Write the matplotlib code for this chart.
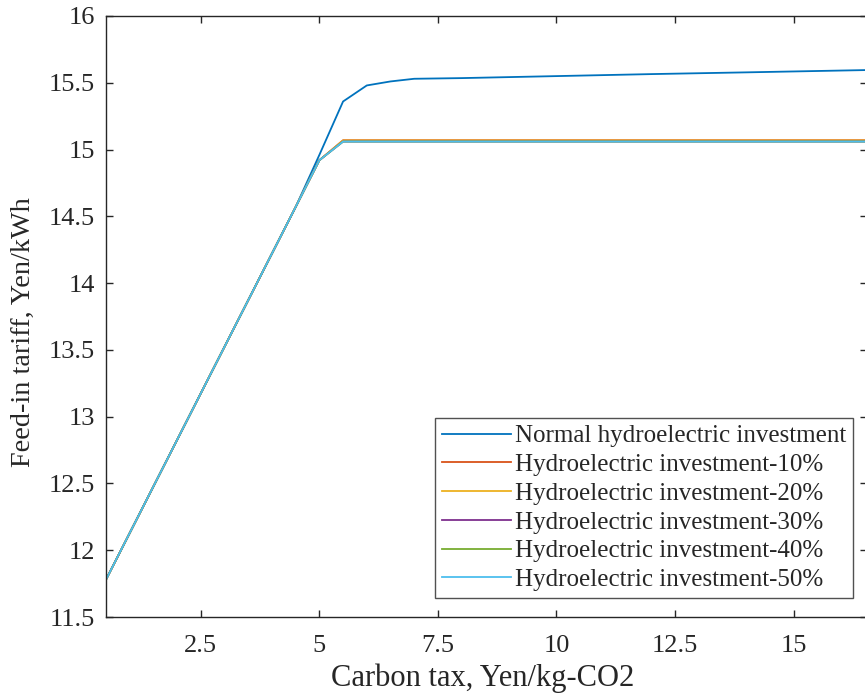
import matplotlib
matplotlib.use("Agg")
import matplotlib.pyplot as plt

plt.rcParams['font.family'] = ['Liberation Serif', 'DejaVu Serif']

# Carbon tax levels (Yen/kg-CO2) and feed-in tariffs (Yen/kWh)
carbon_tax = [0.5, 4.5, 5.0, 5.5, 6.0, 6.5, 7.0, 8.0, 10.0, 12.0, 14.0, 16.5]
normal_inv = [11.78, 14.57, 14.96, 15.36, 15.48, 15.51, 15.53, 15.535, 15.55, 15.565, 15.578, 15.595]
inv_10 = [11.78, 14.57, 14.92, 15.07, 15.07, 15.07, 15.07, 15.07, 15.07, 15.07, 15.07, 15.07]
inv_20 = [11.78, 14.57, 14.92, 15.068, 15.068, 15.068, 15.068, 15.068, 15.068, 15.068, 15.068, 15.068]
inv_30 = [11.78, 14.57, 14.92, 15.06, 15.06, 15.06, 15.06, 15.06, 15.06, 15.06, 15.06, 15.06]
inv_40 = [11.78, 14.57, 14.92, 15.06, 15.06, 15.06, 15.06, 15.06, 15.06, 15.06, 15.06, 15.06]
inv_50 = [11.78, 14.57, 14.92, 15.06, 15.06, 15.06, 15.06, 15.06, 15.06, 15.06, 15.06, 15.06]

series = [
    ("Normal hydroelectric investment", normal_inv, "#0072BD"),
    ("Hydroelectric investment-10%", inv_10, "#D95319"),
    ("Hydroelectric investment-20%", inv_20, "#EDB120"),
    ("Hydroelectric investment-30%", inv_30, "#7E2F8E"),
    ("Hydroelectric investment-40%", inv_40, "#77AC30"),
    ("Hydroelectric investment-50%", inv_50, "#4DBEEE"),
]

x_ticks = [2.5, 5, 7.5, 10, 12.5, 15]
x_tick_labels = ["2.5", "5", "7.5", "10", "12.5", "15"]
y_ticks = [11.5, 12, 12.5, 13, 13.5, 14, 14.5, 15, 15.5, 16]
y_tick_labels = ["11.5", "12", "12.5", "13", "13.5", "14", "14.5", "15", "15.5", "16"]

fig = plt.figure(figsize=(8.65, 6.99), dpi=100)
ax = fig.add_axes([106 / 865, 1 - 617 / 699, 761 / 865, (617 - 16) / 699])

for label, values, color in series:
    ax.plot(carbon_tax, values, color=color, lw=1.3, label=label)

ax.set_xlim(0.5, 16.55)
ax.set_ylim(11.5, 16)
ax.set_xticks(x_ticks)
ax.set_xticklabels(x_tick_labels)
ax.set_yticks(y_ticks)
ax.set_yticklabels(y_tick_labels)

spine_col = "#262626"
for s in ax.spines.values():
    s.set_color(spine_col)
    s.set_linewidth(1.0)
ax.tick_params(direction="in", length=5, width=1.0, color=spine_col,
               labelsize=19, labelcolor="#262626", top=True, right=True)
ax.tick_params(axis="x", pad=13)
ax.tick_params(axis="y", pad=8)

ax.set_xlabel("Carbon tax, Yen/kg-CO2", fontsize=22, color="#262626")
ax.xaxis.set_label_coords(0.4955, -0.078)
ax.set_ylabel("Feed-in tariff, Yen/kWh", fontsize=20.3, color="#262626")
ax.yaxis.set_label_coords(-0.092, 0.474)

leg = ax.legend(loc="lower right", bbox_to_anchor=((853 - 106) / 761, (617 - 598) / 601),
                fontsize=18, frameon=True, fancybox=False, handlelength=2.75,
                handletextpad=0.15, labelspacing=0.25, borderpad=0.28, borderaxespad=0)
leg.get_frame().set_edgecolor(spine_col)
leg.get_frame().set_linewidth(1.0)
for t in leg.get_texts():
    t.set_color("#262626")

fig.savefig("out.png", dpi=100)
